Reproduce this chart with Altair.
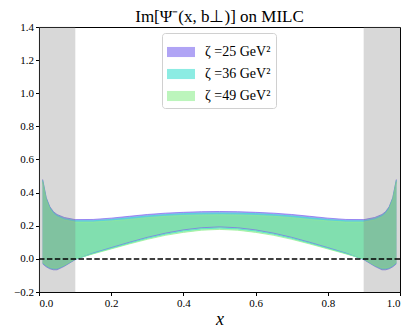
import altair as alt
import pandas as pd

x_vals = [0.01, 0.02, 0.03, 0.04, 0.05, 0.07, 0.10, 0.15, 0.20, 0.25, 0.30, 0.35, 0.40, 0.45, 0.50,
          0.55, 0.60, 0.65, 0.70, 0.75, 0.80, 0.85, 0.90, 0.93, 0.95, 0.96, 0.97, 0.98, 0.99]

series_names = ["ζ =25 GeV²", "ζ =36 GeV²", "ζ =49 GeV²"]
series_colors = ["#7b68ee", "#40e0d0", "#90ee90"]

hi_25 = [0.48, 0.37, 0.315, 0.285, 0.268, 0.250, 0.237, 0.238, 0.246, 0.257, 0.268, 0.276, 0.281, 0.285, 0.286,
         0.285, 0.281, 0.276, 0.268, 0.257, 0.246, 0.238, 0.237, 0.250, 0.268, 0.285, 0.315, 0.37, 0.48]
lo_25 = [-0.030, -0.048, -0.060, -0.066, -0.066, -0.045, -0.005, 0.035, 0.068, 0.100, 0.130, 0.155, 0.175, 0.188, 0.193,
         0.188, 0.175, 0.155, 0.130, 0.100, 0.068, 0.035, -0.005, -0.045, -0.066, -0.066, -0.060, -0.048, -0.030]

hi_36 = [0.475, 0.365, 0.31, 0.28, 0.262, 0.243, 0.230, 0.230, 0.238, 0.248, 0.259, 0.267, 0.273, 0.276, 0.277,
         0.276, 0.273, 0.267, 0.259, 0.248, 0.238, 0.230, 0.230, 0.243, 0.262, 0.28, 0.31, 0.365, 0.475]
lo_36 = [-0.025, -0.043, -0.055, -0.060, -0.060, -0.041, -0.003, 0.033, 0.064, 0.095, 0.124, 0.149, 0.168, 0.181, 0.186,
         0.181, 0.168, 0.149, 0.124, 0.095, 0.064, 0.033, -0.003, -0.041, -0.060, -0.060, -0.055, -0.043, -0.025]

hi_49 = [0.465, 0.355, 0.30, 0.27, 0.253, 0.235, 0.222, 0.222, 0.229, 0.238, 0.249, 0.257, 0.262, 0.265, 0.266,
         0.265, 0.262, 0.257, 0.249, 0.238, 0.229, 0.222, 0.222, 0.235, 0.253, 0.27, 0.30, 0.355, 0.465]
lo_49 = [-0.020, -0.038, -0.050, -0.055, -0.055, -0.038, 0.000, 0.030, 0.060, 0.090, 0.118, 0.142, 0.160, 0.173, 0.178,
         0.173, 0.160, 0.142, 0.118, 0.090, 0.060, 0.030, 0.000, -0.038, -0.055, -0.055, -0.050, -0.038, -0.020]

shade_start = [0.0, 0.9]
shade_end = [0.1, 1.0]

rows = []
for name, lo, hi in zip(series_names, [lo_25, lo_36, lo_49], [hi_25, hi_36, hi_49]):
    for xv, l, h in zip(x_vals, lo, hi):
        rows.append({"x": xv, "lo": l, "hi": h, "series": name})
df = pd.DataFrame(rows)
shade_df = pd.DataFrame({"x0": shade_start, "x1": shade_end})
zero_df = pd.DataFrame({"y": [0.0]})

font = "'Liberation Serif', 'Times New Roman', serif"
W, H = 361, 265

xscale = alt.Scale(domain=[0, 1], nice=False, zero=False)
yscale = alt.Scale(domain=[-0.2, 1.4], nice=False, zero=False)

color = alt.Color(
    "series:N",
    scale=alt.Scale(domain=series_names, range=series_colors),
    legend=alt.Legend(
        title=None, orient="none", legendX=123, legendY=6,
        symbolType="M-1,-0.36H1V0.36H-1Z", symbolSize=784, symbolOpacity=0.6,
        symbolStrokeWidth=0, labelFont=font, labelFontSize=14, labelColor="black",
        rowPadding=1, padding=5, strokeColor="#d0d0d0", fillColor="white",
        cornerRadius=3, labelOffset=10,
    ),
)

xaxis = alt.Axis(values=[0, 0.2, 0.4, 0.6, 0.8, 1.0], format=".1f", title="x",
                 titleFont=font, titleFontStyle="italic", titleFontSize=18, titleFontWeight="normal",
                 labelFont=font, labelFontSize=11, labelColor="black", grid=False,
                 domainColor="black", tickColor="black", tickSize=3.5, titleColor="black",
                 titlePadding=2, labelOverlap=False)
yaxis = alt.Axis(values=[-0.2, 0, 0.2, 0.4, 0.6, 0.8, 1.0, 1.2, 1.4], format=".1f", title=None,
                 labelFont=font, labelFontSize=11, labelColor="black", grid=False,
                 domainColor="black", tickColor="black", tickSize=3.5, labelOverlap=False)

base = alt.Chart(df).encode(
    x=alt.X("x:Q", scale=xscale, axis=xaxis),
)

bands = base.mark_area(opacity=0.6).encode(
    y=alt.Y("lo:Q", scale=yscale, axis=yaxis),
    y2="hi:Q",
    color=color,
)
lo_line = base.mark_line(opacity=0.7, strokeWidth=1).encode(
    y=alt.Y("lo:Q", scale=yscale, axis=yaxis), color=color)
hi_line = base.mark_line(opacity=0.7, strokeWidth=1).encode(
    y=alt.Y("hi:Q", scale=yscale, axis=yaxis), color=color)

shade = alt.Chart(shade_df).mark_rect(color="gray", opacity=0.3, stroke="gray", strokeWidth=1, strokeOpacity=0.4).encode(
    x=alt.X("x0:Q", scale=xscale, axis=xaxis), x2="x1:Q", y=alt.value(0), y2=alt.value(H))

zero = alt.Chart(zero_df).mark_rule(color="black", strokeWidth=1.5, strokeDash=[5.5, 2.4]).encode(
    y=alt.Y("y:Q", scale=yscale, axis=yaxis))

chart = alt.layer(bands, lo_line, hi_line, shade, zero).properties(
    width=W, height=H,
    title=alt.TitleParams("Im[Ψ⁻(x, b⊥)] on MILC", font=font, fontSize=17, fontWeight="normal",
                          color="black", offset=-5),
    padding={"left": 5, "top": 0, "right": 5, "bottom": 0},
).configure_view(stroke="black", strokeWidth=1)

chart.save("out.html", embed_options={"renderer": "svg", "actions": False})
